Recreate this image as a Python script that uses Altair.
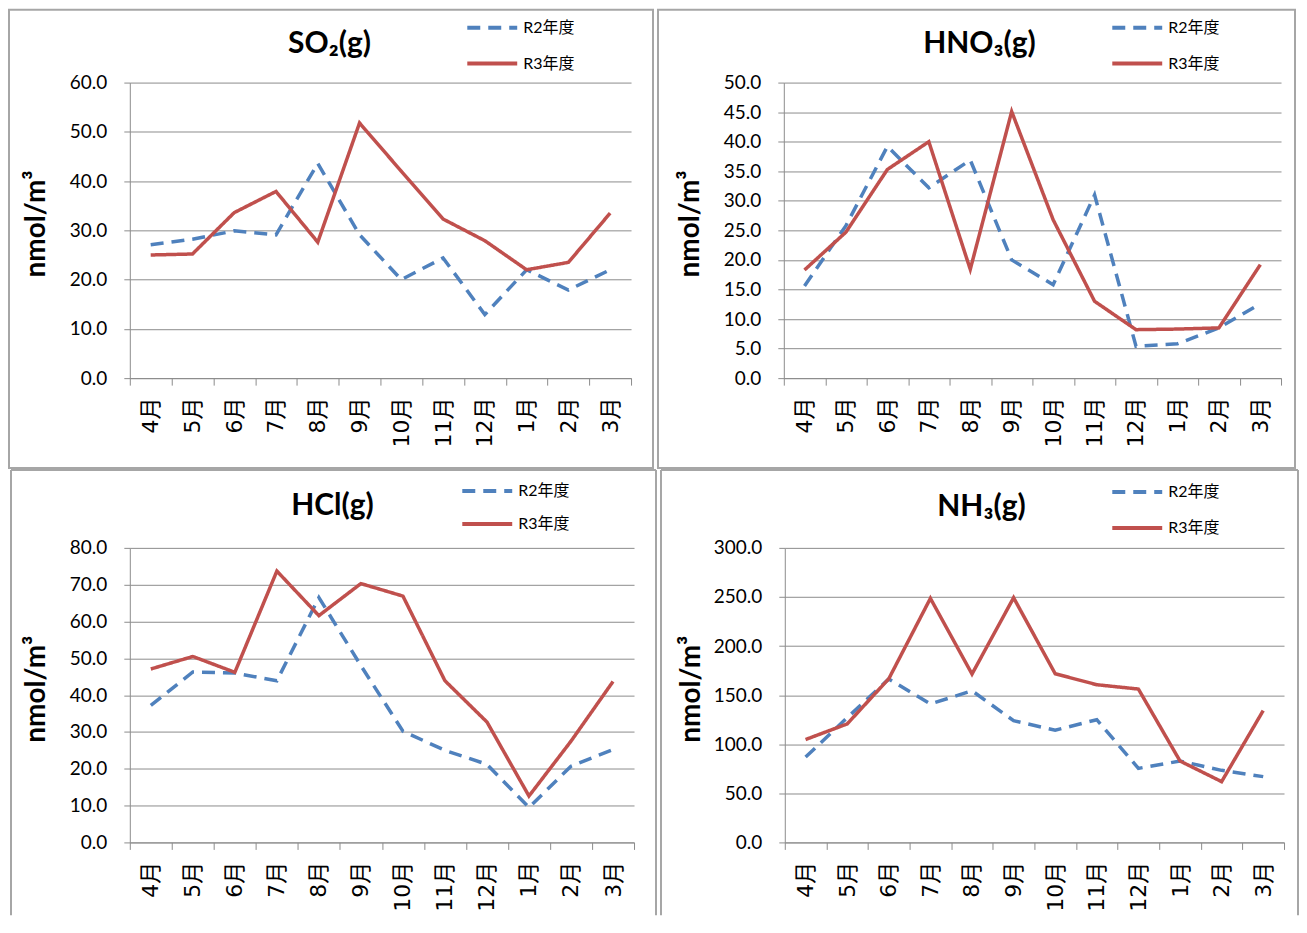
import altair as alt
import pandas as pd

# ---------------- data ----------------
months = ["4月", "5月", "6月", "7月", "8月", "9月", "10月", "11月", "12月", "1月", "2月", "3月"]
series_names = ["R2年度", "R3年度"]

so2_r2 = [27.1, 28.2, 29.9, 29.1, 43.6, 29.1, 20.0, 24.4, 12.9, 22.0, 17.9, 22.0]
so2_r3 = [25.0, 25.2, 33.6, 37.9, 27.6, 51.8, 42.0, 32.3, 27.9, 22.0, 23.5, 33.5]

hno3_r2 = [15.6, 25.8, 39.2, 32.2, 36.9, 20.0, 15.8, 31.0, 5.4, 5.8, 8.5, 12.6]
hno3_r3 = [18.3, 24.7, 35.3, 40.0, 18.4, 45.1, 26.8, 13.0, 8.2, 8.3, 8.5, 19.2]

hcl_r2 = [37.2, 46.3, 46.0, 43.9, 66.5, 48.0, 30.2, 25.0, 21.2, 9.5, 20.7, 25.2]
hcl_r3 = [47.1, 50.5, 46.2, 73.7, 61.6, 70.3, 66.9, 43.9, 32.7, 12.6, 27.5, 43.7]

nh3_r2 = [86.9, 127.0, 166.4, 141.0, 154.5, 124.0, 114.3, 125.0, 75.4, 82.9, 73.4, 67.0]
nh3_r3 = [104.8, 120.7, 166.7, 248.6, 171.5, 249.2, 171.8, 160.6, 156.2, 82.9, 61.9, 134.3]

so2_ticks = [0, 10, 20, 30, 40, 50, 60]
hno3_ticks = [0, 5, 10, 15, 20, 25, 30, 35, 40, 45, 50]
hcl_ticks = [0, 10, 20, 30, 40, 50, 60, 70, 80]
nh3_ticks = [0, 50, 100, 150, 200, 250, 300]

titles = ["SO₂(g)", "HNO₃(g)", "HCl(g)", "NH₃(g)"]
unit_label = "nmol/m³"

# ---------------- style ----------------
FONT = "Lato, 'Noto Sans CJK JP', sans-serif"
XFONT = "'DejaVu Sans', 'Noto Sans CJK JP', sans-serif"
GRID = "#8C8C8C"
FRAME = "#A6A6A6"
COLORS = ["#4F81BD", "#C0504D"]


def panel(title, r2, r3, ticks, w, h, frame, legend_xy, title_xy, top_row):
    df = pd.DataFrame({
        "month": months * 2,
        "series": [series_names[0]] * len(months) + [series_names[1]] * len(months),
        "value": r2 + r3,
    })
    leg = alt.Legend(
        title=None, orient="none", legendX=legend_xy[0], legendY=legend_xy[1],
        symbolType="stroke", symbolSize=2500, symbolStrokeWidth=4,
        clipHeight=20, rowPadding=legend_xy[2], padding=0, labelOffset=4,
        labelFont=FONT, labelFontSize=16, labelColor="black", labelBaseline="middle",
    )
    lines = alt.Chart(df).mark_line(strokeWidth=3.5, strokeCap="butt").encode(
        x=alt.X(
            "month:N", sort=months, bandPosition=0.5,
            scale=alt.Scale(type="band", paddingInner=0, paddingOuter=0),
            axis=alt.Axis(
                title=None, labelAngle=270, labelAlign="right", labelBaseline="middle",
                labelFont=XFONT, labelFontSize=22, labelColor="black", labelPadding=12,
                tickBand="extent", tickSize=7, tickColor=GRID, tickWidth=1,
                domainColor=GRID, domainWidth=1, grid=False, labelOverlap=False,
            ),
        ),
        y=alt.Y(
            "value:Q",
            scale=alt.Scale(domain=[ticks[0], ticks[-1]], nice=False),
            axis=alt.Axis(
                values=ticks, format=".1f", title=unit_label,
                titleFont=FONT, titleFontSize=28, titleFontWeight="bold", titleColor="black",
                titleAngle=270, titleAlign="center", titleBaseline="middle",
                titleX=-93, titleY=141,
                labelFont=FONT, labelFontSize=19, labelColor="black", labelPadding=17,
                tickSize=6, tickColor=GRID, domainColor=GRID, gridColor=GRID, gridWidth=1,
            ),
        ),
        color=alt.Color("series:N", scale=alt.Scale(domain=series_names, range=COLORS), legend=leg),
        strokeDash=alt.StrokeDash("series:N", scale=alt.Scale(domain=series_names, range=[[13, 8], [1, 0]]), legend=leg),
        order=alt.Order("series:N"),
    )
    fdf = pd.DataFrame({"label": [title]})
    fx1, fx2, fy1, fy2 = frame
    if top_row:
        border = alt.Chart(fdf).mark_rect(filled=False, stroke=FRAME, strokeWidth=2).encode(
            x=alt.value(fx1), x2=alt.value(fx2), y=alt.value(fy1), y2=alt.value(fy2))
        layers = [border]
    else:
        left = alt.Chart(fdf).mark_rule(stroke=FRAME, strokeWidth=2).encode(
            x=alt.value(fx1), y=alt.value(fy1), y2=alt.value(fy2))
        right = alt.Chart(fdf).mark_rule(stroke=FRAME, strokeWidth=2).encode(
            x=alt.value(fx2), y=alt.value(fy1), y2=alt.value(fy2))
        top = alt.Chart(fdf).mark_rule(stroke=FRAME, strokeWidth=2).encode(
            x=alt.value(fx1), x2=alt.value(fx2), y=alt.value(fy1))
        layers = [left, right, top]
    head = alt.Chart(fdf).mark_text(
        font=FONT, fontSize=30, fontWeight="bold", color="black",
        align="center", baseline="alphabetic",
    ).encode(text="label:N", x=alt.value(title_xy[0]), y=alt.value(title_xy[1]))
    return alt.layer(*layers, head, lines).properties(width=w, height=h)


p1 = panel(titles[0], so2_r2, so2_r3, so2_ticks, 502, 296, (-121, 524, -73, 386), (336, -65, 16), (200, -30), True)
p2 = panel(titles[1], hno3_r2, hno3_r3, hno3_ticks, 498, 296, (-126, 512, -73, 386), (327, -65, 16), (196, -30), True)
p3 = panel(titles[2], hcl_r2, hcl_r3, hcl_ticks, 505, 295, (-119, 527, -78, 368), (331, -67, 13), (203, -33), False)
p4 = panel(titles[3], nh3_r2, nh3_r3, nh3_ticks, 500, 295, (-124, 514, -78, 368), (326, -66, 16), (197, -32), False)

res = dict(color="independent", strokeDash="independent", y="independent", x="independent")
row1 = alt.hconcat(p1, p2, spacing=3).resolve_scale(**res).resolve_legend(color="independent", strokeDash="independent")
row2 = alt.hconcat(p3, p4, spacing=3).resolve_scale(**res).resolve_legend(color="independent", strokeDash="independent")

chart = alt.vconcat(row1, row2, spacing=0).resolve_scale(**res).resolve_legend(
    color="independent", strokeDash="independent"
).properties(padding=0, background="white").configure_view(strokeWidth=0)

chart.save("out.html", embed_options={"renderer": "svg", "actions": False})
